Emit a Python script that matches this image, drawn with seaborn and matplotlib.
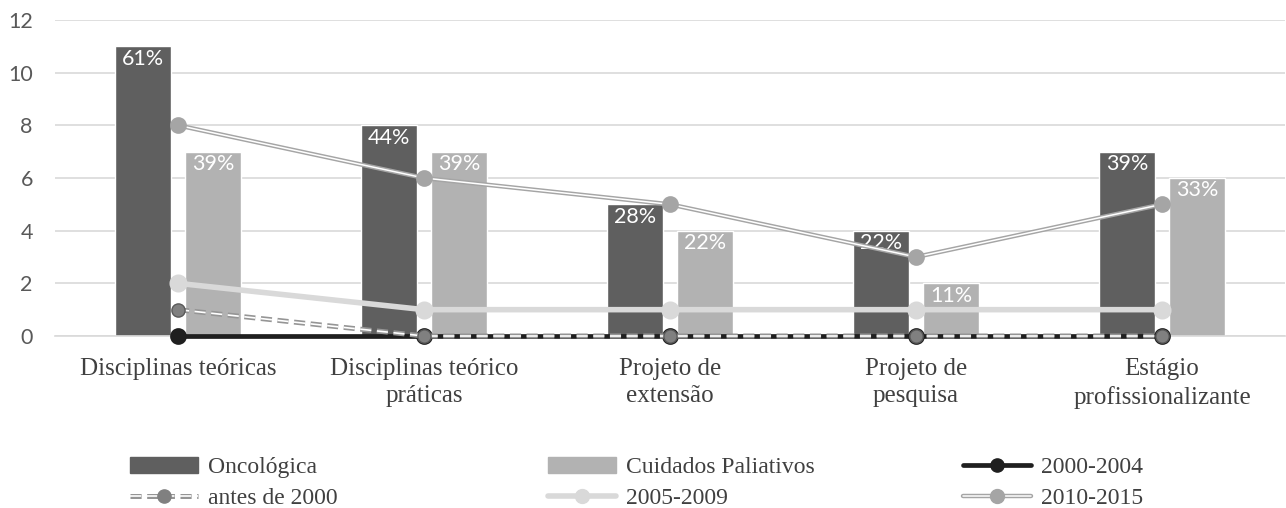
import numpy as np
import pandas as pd
import matplotlib
matplotlib.use("Agg")
import matplotlib.pyplot as plt
import seaborn as sns
from matplotlib.patches import Patch
from matplotlib.lines import Line2D
from matplotlib.legend_handler import HandlerTuple

# Data
categorias = ["Disciplinas teóricas", "Disciplinas teórico\npráticas", "Projeto de\nextensão",
              "Projeto de\npesquisa", "Estágio\nprofissionalizante"]
oncologica = [11, 8, 5, 4, 7]
paliativos = [7, 7, 4, 2, 6]
onco_pct = ["61%", "44%", "28%", "22%", "39%"]
pal_pct = ["39%", "39%", "22%", "11%", "33%"]
antes_2000 = [1, 0, 0, 0, 0]
p2000_2004 = [0, 0, 0, 0, 0]
p2005_2009 = [2, 1, 1, 1, 1]
p2010_2015 = [8, 6, 5, 3, 5]

grupos = ["Oncológica", "Cuidados Paliativos"]
cor_onco = "#5f5f5f"
cor_pal = "#b2b2b2"

df = pd.DataFrame({
    "categoria": categorias * 2,
    "grupo": [grupos[0]] * len(categorias) + [grupos[1]] * len(categorias),
    "valor": oncologica + paliativos,
})

sns.set_style("white")
plt.rcParams["lines.scale_dashes"] = False
serif = "Liberation Serif"
sans = "Lato"
tracejado = (0, (8, 4))

fig = plt.figure(figsize=(12.86, 5.08), dpi=100)
ax = fig.add_axes([55 / 1286, 1 - 336 / 508, 1230 / 1286, 316 / 508])

sns.barplot(data=df, x="categoria", y="valor", hue="grupo", order=categorias,
            palette=[cor_onco, cor_pal], width=0.57, gap=0.2, saturation=1,
            legend=False, ax=ax, zorder=2)
ax.bar_label(ax.containers[0], labels=onco_pct, padding=-16, color="white",
             fontsize=15.5, family=sans)
ax.bar_label(ax.containers[1], labels=pal_pct, padding=-16, color="white",
             fontsize=15.5, family=sans)

# 2000-2004 (black solid)
sns.pointplot(x=categorias, y=p2000_2004, order=categorias, color="#1f1f1f", markers="o",
              linestyles="-", errorbar=None, linewidth=3.4, markersize=9.5,
              clip_on=False, ax=ax, zorder=4)
# antes de 2000 (double dashed gray)
sns.pointplot(x=categorias, y=antes_2000, order=categorias, color="#959595", marker="",
              linestyles=tracejado, errorbar=None, linewidth=3.6, clip_on=False, ax=ax, zorder=5)
sns.pointplot(x=categorias, y=antes_2000, order=categorias, color="white", marker="",
              linestyles=tracejado, errorbar=None, linewidth=1.2, clip_on=False, ax=ax, zorder=5)
sns.pointplot(x=categorias, y=antes_2000, order=categorias, color="#808080", markers="o",
              linestyles="none", errorbar=None, markersize=9.5, markeredgecolor="#5a5a5a",
              markeredgewidth=1, clip_on=False, ax=ax, zorder=6)
# 2005-2009 (light gray thick)
sns.pointplot(x=categorias, y=p2005_2009, order=categorias, color="#d9d9d9", markers="o",
              linestyles="-", errorbar=None, linewidth=4, markersize=10,
              clip_on=False, ax=ax, zorder=4)
# 2010-2015 (double gray line)
sns.pointplot(x=categorias, y=p2010_2015, order=categorias, color="#a5a5a5", marker="",
              linestyles="-", errorbar=None, linewidth=3.2, ax=ax, zorder=5)
sns.pointplot(x=categorias, y=p2010_2015, order=categorias, color="white", marker="",
              linestyles="-", errorbar=None, linewidth=1.1, ax=ax, zorder=5)
sns.pointplot(x=categorias, y=p2010_2015, order=categorias, color="#a5a5a5", markers="o",
              linestyles="none", errorbar=None, markersize=10, ax=ax, zorder=6)

ax.set_ylim(0, 12)
ax.set_xlim(-0.5, len(categorias) - 0.5)
ax.set_yticks(np.arange(0, 13, 2))
ax.grid(axis="y", color="#d9d9d9", linewidth=1.2, zorder=0)
ax.set_axisbelow(True)
for s in ["top", "right", "left"]:
    ax.spines[s].set_visible(False)
ax.spines["bottom"].set_color("#d9d9d9")
ax.spines["bottom"].set_linewidth(1.2)
ax.set_xlabel("")
ax.set_ylabel("")
ax.set_xticks(np.arange(len(categorias) + 1) - 0.5, minor=True)
ax.tick_params(axis="x", which="major", length=0, pad=16, labelsize=18, labelcolor="#404040")
ax.tick_params(axis="x", which="minor", length=5, color="#d9d9d9", width=1.2)
ax.tick_params(axis="y", length=0, pad=16, labelsize=15.5, labelcolor="#595959")
for lab in ax.get_xticklabels():
    lab.set_family(serif)
    lab.set_linespacing(1.3)
for lab in ax.get_yticklabels():
    lab.set_family(sans)

# Legend handles
h_onco = Patch(color=cor_onco)
h_pal = Patch(color=cor_pal)
h_2000 = Line2D([], [], color="#1f1f1f", lw=3.4, marker="o", ms=9.5)
h_antes = (Line2D([], [], color="#959595", lw=3.6, ls=(0, (8, 4))),
           Line2D([], [], color="white", lw=1.2, ls=(0, (8, 4))),
           Line2D([], [], color="#808080", ls="none", marker="o", ms=9.5))
h_2005 = Line2D([], [], color="#d9d9d9", lw=4, marker="o", ms=10)
h_2010 = (Line2D([], [], color="#a5a5a5", lw=3.2),
          Line2D([], [], color="white", lw=1.1),
          Line2D([], [], color="#a5a5a5", ls="none", marker="o", ms=10))

leg_kw = dict(frameon=False, prop={"family": serif, "size": 17}, handlelength=2.85,
              handletextpad=0.45, labelspacing=0.4, labelcolor="#404040",
              handler_map={tuple: HandlerTuple(ndivide=1)}, loc="center left")
colunas = [([h_onco, h_antes], ["Oncológica", "antes de 2000"], 109),
           ([h_pal, h_2005], ["Cuidados Paliativos", "2005-2009"], 527),
           ([h_2000, h_2010], ["2000-2004", "2010-2015"], 942)]
for hs, ls, x0 in colunas:
    fig.legend(hs, ls, bbox_to_anchor=(x0 / 1286, 1 - 483 / 508), **leg_kw)

fig.savefig("out.png", dpi=100)
